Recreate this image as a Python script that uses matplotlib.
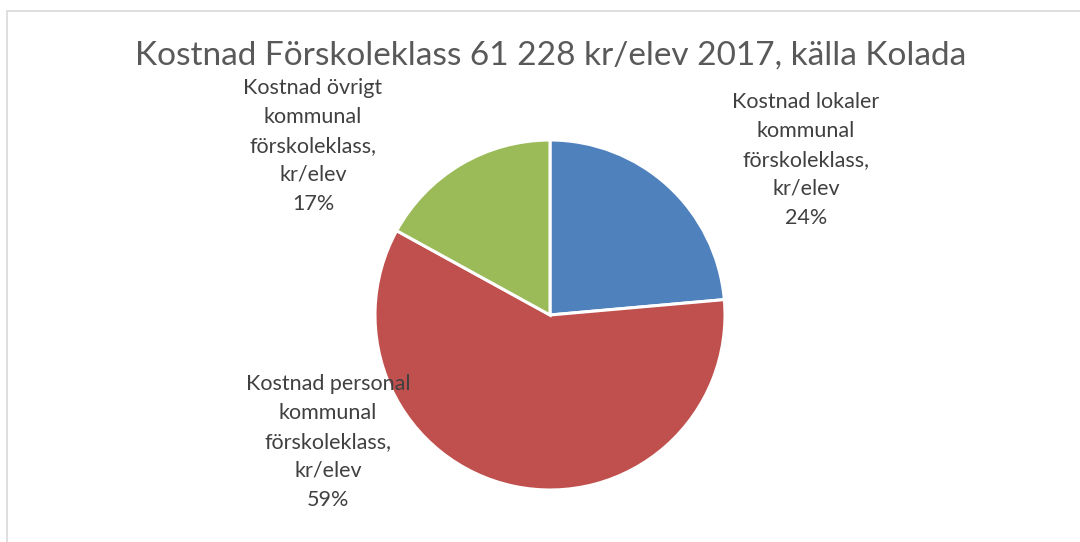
"""
Pie chart: Kostnad Förskoleklass 2017 (Kolada).
"""
import matplotlib.pyplot as plt
from matplotlib.patches import Rectangle

# Andel av kostnaden, procent
categories = [
    "Kostnad lokaler\nkommunal\nförskoleklass,\nkr/elev",
    "Kostnad personal\nkommunal\nförskoleklass,\nkr/elev",
    "Kostnad övrigt\nkommunal\nförskoleklass,\nkr/elev",
]
shares = [23.6, 59.4, 17.0]
colors = ["#4F81BD", "#C0504D", "#9BBB59"]
label_pos = [(806, 382), (328, 100), (313, 396)]  # pixel positions (y from bottom)

W, H = 1080, 542
plt.rcParams["font.family"] = ["Lato", "DejaVu Sans"]

fig = plt.figure(figsize=(W / 100, H / 100), dpi=100)
ax = fig.add_axes([0, 0, 1, 1])

ax.pie(shares, colors=colors, startangle=90, counterclock=False,
       center=(550, H - 315), radius=175,
       wedgeprops=dict(edgecolor="white", linewidth=2.2))

# pie() sets its own limits, so fix the pixel frame afterwards
ax.set_xlim(0, W)
ax.set_ylim(0, H)
ax.set_aspect("equal")
ax.axis("off")

# chart area border (only left and top visible)
ax.add_patch(Rectangle((7, -20), W + 40, H - 11 + 20, fill=False,
                       edgecolor="#D9D9D9", linewidth=1.2))

total = sum(shares)
for cat, val, (x, y) in zip(categories, shares, label_pos):
    ax.text(x, y, f"{cat}\n{round(val / total * 100)}%", ha="center", va="center",
            fontsize=15.5, color="#404040", linespacing=1.55)

ax.text(551, H - 56, "Kostnad Förskoleklass 61 228 kr/elev 2017, källa Kolada",
        ha="center", va="center", fontsize=24, color="#595959")

fig.savefig("out.png", dpi=100)
